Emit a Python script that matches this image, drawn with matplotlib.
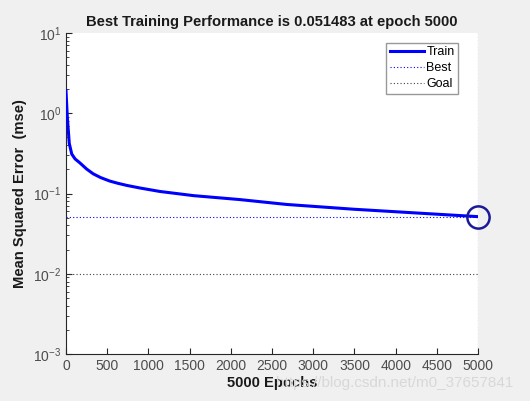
import numpy as np
import matplotlib
matplotlib.use("Agg")
import matplotlib.pyplot as plt
from matplotlib.ticker import LogLocator, NullFormatter

plt.rcParams['font.family'] = ['Liberation Sans', 'DejaVu Sans']

# training curve
epochs = [0, 16, 40, 70, 110, 170, 250, 330, 420, 530, 630, 740, 900, 1140, 1550,
          2110, 2680, 3490, 4300, 5000]
mse = [1.90, 0.90, 0.42, 0.31, 0.27, 0.24, 0.202, 0.176, 0.158, 0.143, 0.134, 0.126,
       0.117, 0.106, 0.094, 0.084, 0.073, 0.0637, 0.0568, 0.051483]
best_epoch = 5000
best_perf = 0.051483
goal = 0.01
xticks = [0, 500, 1000, 1500, 2000, 2500, 3000, 3500, 4000, 4500, 5000]

bg = '#f0f0f0'
tick_col = '#4d4d4d'

fig = plt.figure(figsize=(5.30, 4.01), dpi=100)
fig.patch.set_facecolor(bg)
ax = fig.add_axes([0.1245, 0.1172, 0.7775, 0.8005])

ax.plot(epochs, mse, color='#0000ff', lw=2.2, label='Train', zorder=3,
        solid_joinstyle='round')
ax.axhline(best_perf, color='#0000ff', lw=0.8, ls=(0, (1, 2)), label='Best', zorder=2)
ax.axvline(best_epoch, color='#0000ff', lw=0.8, ls=(0, (1, 2)), zorder=2)
ax.axhline(goal, color='#404040', lw=0.8, ls=(0, (1, 2)), label='Goal', zorder=2)
ax.plot([best_epoch], [best_perf], 'o', ms=16, mfc='none', mec='#1a1a99', mew=1.8,
        clip_on=False, zorder=4)

ax.set_yscale('log')
ax.set_ylim(1e-3, 1e1)
ax.set_xlim(0, 5000)
ax.set_xticks(xticks)
ax.yaxis.set_major_locator(LogLocator(base=10, numticks=10))
ax.yaxis.set_minor_locator(LogLocator(base=10, subs=np.arange(2, 10), numticks=10))
ax.yaxis.set_minor_formatter(NullFormatter())

for side in ['top', 'right']:
    ax.spines[side].set_visible(False)
for side in ['left', 'bottom']:
    ax.spines[side].set_color('#262626')
    ax.spines[side].set_linewidth(0.8)

ax.tick_params(which='both', direction='in', colors='#262626', labelcolor=tick_col,
               labelsize=10)
ax.tick_params(which='major', length=4)
ax.tick_params(which='minor', length=2)

ax.set_title('Best Training Performance is 0.051483 at epoch 5000',
             fontsize=10.6, fontweight='bold', color='#1a1a1a', pad=5)
ax.set_xlabel('5000 Epochs', fontsize=10.6, fontweight='bold', color='#1a1a1a', labelpad=2)
ax.set_ylabel('Mean Squared Error  (mse)', fontsize=10.6, fontweight='bold',
              color='#1a1a1a', labelpad=4)

leg = ax.legend(loc='upper right', bbox_to_anchor=(0.952, 0.97), fontsize=9,
                frameon=True, fancybox=False, handlelength=2.7, handletextpad=0.2,
                borderpad=0.3, labelspacing=0.3, borderaxespad=0)
leg.get_frame().set_edgecolor('#808080')
leg.get_frame().set_linewidth(1.0)

fig.text(0.968, 0.045, 'https://blog.csdn.net/m0_37657841', ha='right', va='center',
         fontsize=11, color='#d8d8d8')

fig.savefig('out.png', dpi=100, facecolor=bg)
